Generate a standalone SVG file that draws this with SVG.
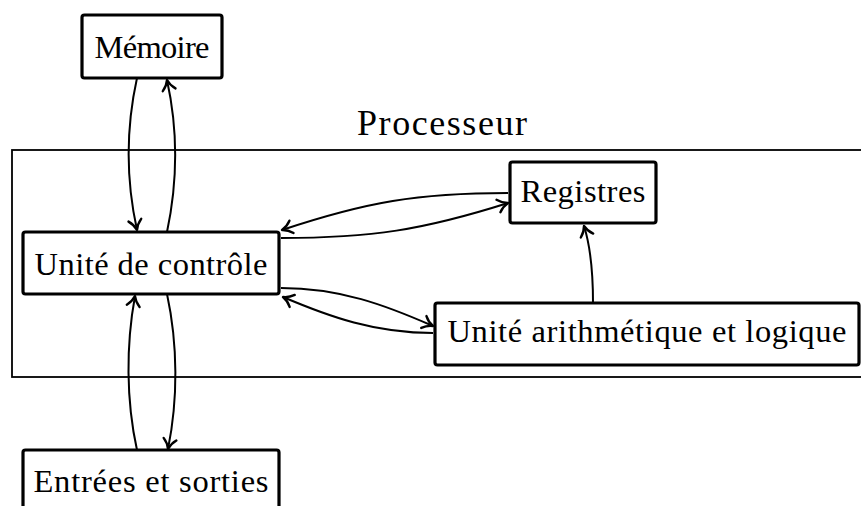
<svg xmlns="http://www.w3.org/2000/svg" width="861" height="506" viewBox="0 0 861 506">
  <style>
    .box { fill: #ffffff; stroke: #000000; stroke-width: 3.2; }
    .frame { fill: none; stroke: #000000; stroke-width: 1.8; }
    text { font-family: 'Liberation Serif', 'Times New Roman', serif; fill: #000000; text-anchor: middle; }
    .lbl { font-size: 32.5px; }
    .title { font-size: 36px; }
    .edge { fill: none; stroke: #000000; stroke-width: 2; marker-end: url(#tip); }
  </style>
  <defs>
    <!-- curved two-barb arrow tip -->
    <marker id="tip" markerUnits="userSpaceOnUse" viewBox="-14 -9 18 18" refX="0" refY="0" markerWidth="18" markerHeight="18" orient="auto" overflow="visible">
      <path d="M-10,-6.5 C-6.5,-2.6 -2.4,-0.7 0,0 C-2.4,0.7 -6.5,2.6 -10,6.5" fill="none" stroke="#000000" stroke-width="2.4" stroke-linecap="round" stroke-linejoin="round"/>
    </marker>
  </defs>

  <!-- processor frame -->
  <g id="processeur">
    <rect class="frame" x="12" y="150" width="870" height="227"/>
    <text class="title" x="442" y="135" textLength="170" lengthAdjust="spacing">Processeur</text>
  </g>

  <!-- connectors -->
  <g id="connectors">
    <path class="edge" d="M137,78 C126,128 126,180 137,230"/>
    <path class="edge" d="M167,232 C178,180 178,130 167,80"/>
    <path class="edge" d="M137,450 C126,400 126,345 135,296"/>
    <path class="edge" d="M167,294 C178,345 178,400 168,449"/>
    <path class="edge" d="M281,238 C371,238 423,230 508,203"/>
    <path class="edge" d="M508,193 C418,193 366,202 282,230"/>
    <path class="edge" d="M281,288 C340,288 385,305 433,326"/>
    <path class="edge" d="M433,333 C375,333 330,317 283,297"/>
    <path class="edge" d="M593,303 C593,270 590,245 584,226"/>
  </g>

  <g id="memoire">
    <rect class="box" x="82" y="15" width="140" height="63" rx="2.5"/>
    <text class="lbl" x="152" y="58" textLength="115" lengthAdjust="spacing">Mémoire</text>
  </g>

  <g id="controle">
    <rect class="box" x="23" y="232" width="256" height="62" rx="2.5"/>
    <text class="lbl" x="151" y="275" textLength="233" lengthAdjust="spacing">Unité de contrôle</text>
  </g>

  <g id="registres">
    <rect class="box" x="510" y="162" width="146" height="61" rx="2.5"/>
    <text class="lbl" x="583" y="202" textLength="125" lengthAdjust="spacing">Registres</text>
  </g>

  <g id="ual">
    <rect class="box" x="435" y="303" width="424" height="62" rx="2.5"/>
    <text class="lbl" x="647" y="342" textLength="399" lengthAdjust="spacing">Unité arithmétique et logique</text>
  </g>

  <g id="entrees-sorties">
    <rect class="box" x="23" y="450" width="256" height="70" rx="2.5"/>
    <text class="lbl" x="151" y="492" textLength="235" lengthAdjust="spacing">Entrées et sorties</text>
  </g>
</svg>
